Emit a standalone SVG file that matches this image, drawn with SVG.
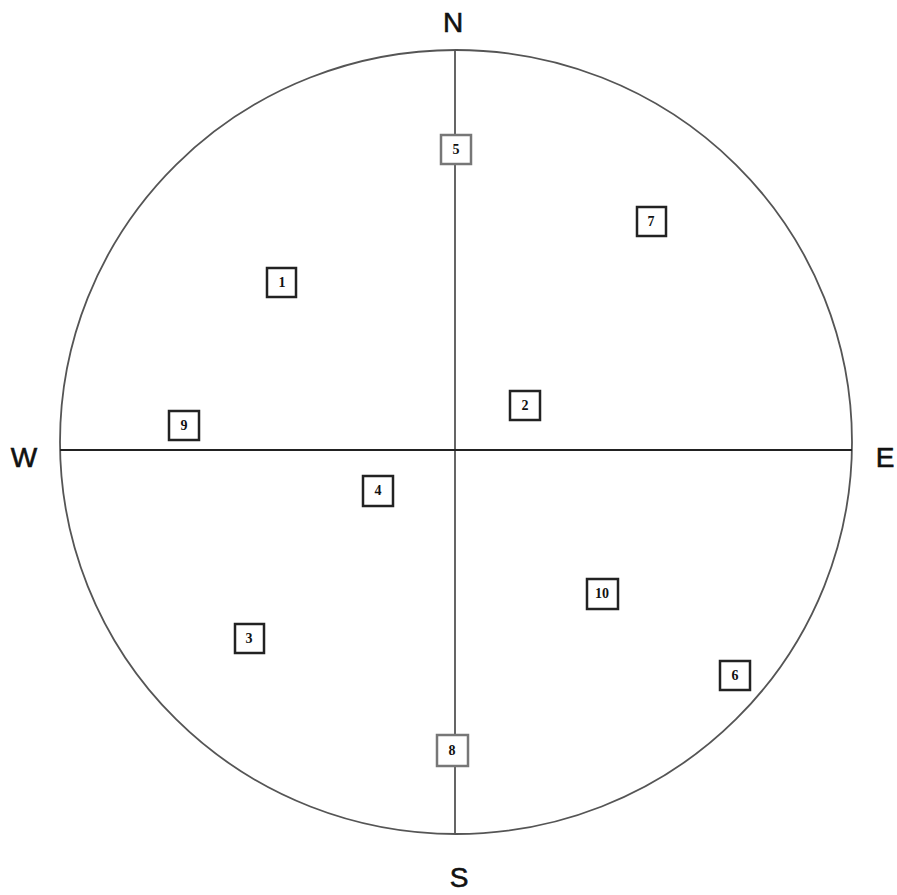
<svg xmlns="http://www.w3.org/2000/svg" width="897" height="895" viewBox="0 0 897 895">
<style>
.dir{font-family:"Liberation Sans",Arial,sans-serif;font-size:28px;fill:#111;stroke:#111;stroke-width:0.6;text-anchor:middle}
.box rect{fill:#fff;stroke:#222;stroke-width:2.5}
.box.light rect{stroke:#777}
.box text{font-family:"Liberation Serif","Times New Roman",serif;font-size:14px;font-weight:bold;fill:#111;text-anchor:middle}
</style>
<rect width="897" height="895" fill="#fff"/>
<g id="connectors" fill="none">
<ellipse cx="456" cy="442" rx="396" ry="392" stroke="#555" stroke-width="1.8"/>
<line x1="455" y1="50" x2="455" y2="834" stroke="#555" stroke-width="1.8"/>
<line x1="60" y1="450" x2="852" y2="450" stroke="#222" stroke-width="1.8"/>
</g>
<g id="labels">
<text class="dir" x="453" y="32">N</text>
<text class="dir" x="459" y="887">S</text>
<text class="dir" x="24" y="467">W</text>
<text class="dir" x="885" y="467">E</text>
</g>
<g id="n5" class="box light"><rect x="441" y="135" width="30" height="29"/><text x="456" y="154">5</text></g>
<g id="n7" class="box"><rect x="637" y="207" width="29" height="29"/><text x="651" y="226">7</text></g>
<g id="n1" class="box"><rect x="267" y="268" width="29" height="29"/><text x="282" y="287">1</text></g>
<g id="n2" class="box"><rect x="510" y="391" width="30" height="29"/><text x="525" y="410">2</text></g>
<g id="n9" class="box"><rect x="169" y="411" width="30" height="29"/><text x="184" y="430">9</text></g>
<g id="n4" class="box"><rect x="363" y="476" width="30" height="30"/><text x="378" y="495">4</text></g>
<g id="n10" class="box"><rect x="587" y="579" width="31" height="30"/><text x="602" y="598">10</text></g>
<g id="n3" class="box"><rect x="235" y="624" width="29" height="29"/><text x="249" y="643">3</text></g>
<g id="n6" class="box"><rect x="720" y="661" width="30" height="29"/><text x="735" y="680">6</text></g>
<g id="n8" class="box light"><rect x="437" y="735" width="31" height="31"/><text x="452" y="755">8</text></g>
</svg>
